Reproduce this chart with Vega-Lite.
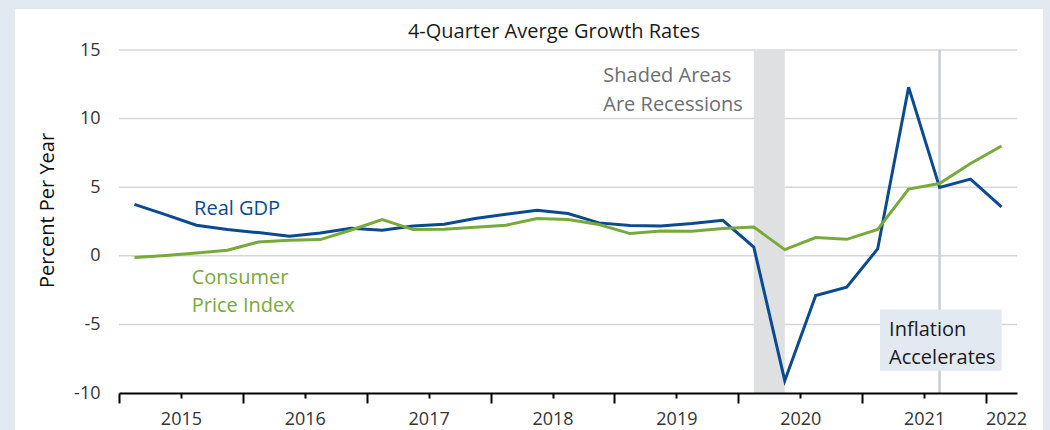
{
  "$schema": "https://vega.github.io/schema/vega-lite/v6.json",
  "width": 898,
  "height": 343,
  "autosize": {"type": "none"},
  "padding": {"left": 119, "top": 50, "right": 33, "bottom": 37},
  "background": "#e3e9f0",
  "config": {"view": {"stroke": null}, "font": "Open Sans"},
  "title": {"text": "4-Quarter Averge Growth Rates", "frame": "group", "anchor": "middle", "dx": -14, "baseline": "alphabetic", "offset": -49, "fontSize": 20, "fontWeight": "normal", "color": "#1a1a1a", "font": "Open Sans"},
  "datasets": {
    "series": [
      {"t": 2015.125, "series": "Real GDP", "value": 3.75},
      {"t": 2015.375, "series": "Real GDP", "value": 3.0},
      {"t": 2015.625, "series": "Real GDP", "value": 2.23},
      {"t": 2015.875, "series": "Real GDP", "value": 1.91},
      {"t": 2016.125, "series": "Real GDP", "value": 1.69},
      {"t": 2016.375, "series": "Real GDP", "value": 1.42},
      {"t": 2016.625, "series": "Real GDP", "value": 1.67},
      {"t": 2016.875, "series": "Real GDP", "value": 2.0},
      {"t": 2017.125, "series": "Real GDP", "value": 1.86},
      {"t": 2017.375, "series": "Real GDP", "value": 2.18},
      {"t": 2017.625, "series": "Real GDP", "value": 2.3},
      {"t": 2017.875, "series": "Real GDP", "value": 2.72},
      {"t": 2018.125, "series": "Real GDP", "value": 3.03},
      {"t": 2018.375, "series": "Real GDP", "value": 3.32},
      {"t": 2018.625, "series": "Real GDP", "value": 3.08},
      {"t": 2018.875, "series": "Real GDP", "value": 2.4},
      {"t": 2019.125, "series": "Real GDP", "value": 2.21},
      {"t": 2019.375, "series": "Real GDP", "value": 2.18},
      {"t": 2019.625, "series": "Real GDP", "value": 2.35},
      {"t": 2019.875, "series": "Real GDP", "value": 2.59},
      {"t": 2020.125, "series": "Real GDP", "value": 0.64},
      {"t": 2020.375, "series": "Real GDP", "value": -9.1},
      {"t": 2020.625, "series": "Real GDP", "value": -2.89},
      {"t": 2020.875, "series": "Real GDP", "value": -2.28},
      {"t": 2021.125, "series": "Real GDP", "value": 0.5},
      {"t": 2021.375, "series": "Real GDP", "value": 12.29},
      {"t": 2021.625, "series": "Real GDP", "value": 4.98},
      {"t": 2021.875, "series": "Real GDP", "value": 5.59},
      {"t": 2022.125, "series": "Real GDP", "value": 3.56},
      {"t": 2015.125, "series": "Consumer Price Index", "value": -0.13},
      {"t": 2015.375, "series": "Consumer Price Index", "value": 0.03},
      {"t": 2015.625, "series": "Consumer Price Index", "value": 0.2},
      {"t": 2015.875, "series": "Consumer Price Index", "value": 0.4},
      {"t": 2016.125, "series": "Consumer Price Index", "value": 1.01},
      {"t": 2016.375, "series": "Consumer Price Index", "value": 1.13},
      {"t": 2016.625, "series": "Consumer Price Index", "value": 1.18},
      {"t": 2016.875, "series": "Consumer Price Index", "value": 1.88},
      {"t": 2017.125, "series": "Consumer Price Index", "value": 2.64},
      {"t": 2017.375, "series": "Consumer Price Index", "value": 1.91},
      {"t": 2017.625, "series": "Consumer Price Index", "value": 1.94},
      {"t": 2017.875, "series": "Consumer Price Index", "value": 2.08},
      {"t": 2018.125, "series": "Consumer Price Index", "value": 2.23},
      {"t": 2018.375, "series": "Consumer Price Index", "value": 2.72},
      {"t": 2018.625, "series": "Consumer Price Index", "value": 2.64},
      {"t": 2018.875, "series": "Consumer Price Index", "value": 2.28},
      {"t": 2019.125, "series": "Consumer Price Index", "value": 1.62},
      {"t": 2019.375, "series": "Consumer Price Index", "value": 1.81},
      {"t": 2019.625, "series": "Consumer Price Index", "value": 1.79},
      {"t": 2019.875, "series": "Consumer Price Index", "value": 1.99},
      {"t": 2020.125, "series": "Consumer Price Index", "value": 2.1},
      {"t": 2020.375, "series": "Consumer Price Index", "value": 0.45},
      {"t": 2020.625, "series": "Consumer Price Index", "value": 1.33},
      {"t": 2020.875, "series": "Consumer Price Index", "value": 1.2},
      {"t": 2021.125, "series": "Consumer Price Index", "value": 1.92},
      {"t": 2021.375, "series": "Consumer Price Index", "value": 4.86},
      {"t": 2021.625, "series": "Consumer Price Index", "value": 5.27},
      {"t": 2021.875, "series": "Consumer Price Index", "value": 6.73},
      {"t": 2022.125, "series": "Consumer Price Index", "value": 8.0}
    ],
    "grid": [{"v": 15}, {"v": 10}, {"v": 5}, {"v": 0}, {"v": -5}],
    "recession": [{"start": 2020.125, "end": 2020.375}],
    "event": [{"t": 2021.625, "label": "Inflation Accelerates"}],
    "notes": [
      {"text": "Real GDP", "t": 2015.606, "v": 2.97, "series": "Real GDP"},
      {"text": "Consumer", "t": 2015.587, "v": -2.06, "series": "Consumer Price Index"},
      {"text": "Price Index", "t": 2015.587, "v": -4.07, "series": "Consumer Price Index"},
      {"text": "Shaded Areas", "t": 2018.91, "v": 12.69, "series": "Recessions"},
      {"text": "Are Recessions", "t": 2018.91, "v": 10.55, "series": "Recessions"},
      {"text": "Inflation", "t": 2021.217, "v": -5.82, "series": "Inflation"},
      {"text": "Accelerates", "t": 2021.217, "v": -7.89, "series": "Inflation"}
    ]
  },
  "layer": [
    {
      "data": {"values": [{}]},
      "mark": {"type": "rect", "fill": "white"},
      "encoding": {
        "x": {"datum": 2014.16, "type": "quantitative"},
        "x2": {"datum": 2022.46},
        "y": {"datum": 17.99, "type": "quantitative"},
        "y2": {"datum": -13}
      }
    },
    {
      "data": {"name": "grid"},
      "mark": {"type": "rule", "color": "#d6d6d6", "strokeWidth": 1.5},
      "encoding": {"y": {"field": "v", "type": "quantitative"}}
    },
    {
      "data": {"name": "recession"},
      "mark": {"type": "rect", "color": "#dfe0e2"},
      "encoding": {
        "x": {"field": "start", "type": "quantitative"},
        "x2": {"field": "end"},
        "y": {"datum": 15, "type": "quantitative"},
        "y2": {"datum": -10}
      }
    },
    {
      "data": {"name": "event"},
      "mark": {"type": "rule", "color": "#c7ced6", "strokeWidth": 2.5},
      "encoding": {
        "x": {"field": "t", "type": "quantitative"},
        "y": {"datum": 15, "type": "quantitative"},
        "y2": {"datum": -10}
      }
    },
    {
      "data": {"values": [{}]},
      "mark": {"type": "rect", "color": "#e3e9f0"},
      "encoding": {
        "x": {"datum": 2021.144, "type": "quantitative"},
        "x2": {"datum": 2022.126},
        "y": {"datum": -3.92, "type": "quantitative"},
        "y2": {"datum": -8.37}
      }
    },
    {
      "data": {"name": "series"},
      "mark": {"type": "line", "strokeWidth": 3, "strokeJoin": "miter"},
      "encoding": {
        "x": {"field": "t", "type": "quantitative",
          "scale": {"domain": [2015, 2022.25], "nice": false, "zero": false},
          "axis": {
            "title": null,
            "values": [2015, 2015.25, 2015.5, 2015.75, 2016, 2016.25, 2016.5, 2016.75, 2017, 2017.25, 2017.5, 2017.75, 2018, 2018.25, 2018.5, 2018.75, 2019, 2019.25, 2019.5, 2019.75, 2020, 2020.25, 2020.5, 2020.75, 2021, 2021.25, 2021.5, 2021.75, 2022, 2022.25],
            "grid": false,
            "domainColor": "#000000",
            "domainWidth": 2,
            "tickColor": "#000000",
            "tickWidth": 2,
            "tickSize": {"condition": {"test": "datum.value % 1 === 0", "value": 10}, "value": 5},
            "labelExpr": "datum.value % 1 === 0.5 ? '' + floor(datum.value) : (datum.value === 2022 ? '2022' : '')",
            "labelOffset": {"condition": {"test": "datum.value === 2022", "value": 20}, "value": 0},
            "labelPadding": {"condition": {"test": "datum.value === 2022", "value": 7}, "value": 12},
            "labelFontSize": 18,
            "labelColor": "#333333",
            "labelOverlap": false,
            "labelBound": false,
            "labelFlush": false,
            "zindex": 1
          }
        },
        "y": {"field": "value", "type": "quantitative",
          "scale": {"domain": [-10, 15], "nice": false, "zero": false},
          "axis": {
            "title": "Percent Per Year",
            "values": [-10, -5, 0, 5, 10, 15],
            "labelExpr": "'' + datum.value",
            "grid": false,
            "domain": false,
            "ticks": false,
            "labelFontSize": 18,
            "labelColor": "#333333",
            "labelPadding": 19,
            "titleFontSize": 20,
            "titleFontWeight": "normal",
            "titleColor": "#111111",
            "titlePadding": 16,
            "titleY": 160,
            "zindex": 1
          }
        },
        "color": {"field": "series", "type": "nominal", "legend": null,
          "scale": {"domain": ["Real GDP", "Consumer Price Index", "Recessions", "Inflation"], "range": ["#0b4a8f", "#78aa3b", "#6d6e71", "#1a1a1a"]}}
      }
    },
    {
      "data": {"name": "notes"},
      "mark": {"type": "text", "align": "left", "baseline": "alphabetic", "fontSize": 20, "font": "Open Sans"},
      "encoding": {
        "x": {"field": "t", "type": "quantitative"},
        "y": {"field": "v", "type": "quantitative"},
        "text": {"field": "text"},
        "color": {"field": "series", "type": "nominal", "legend": null}
      }
    }
  ]
}
